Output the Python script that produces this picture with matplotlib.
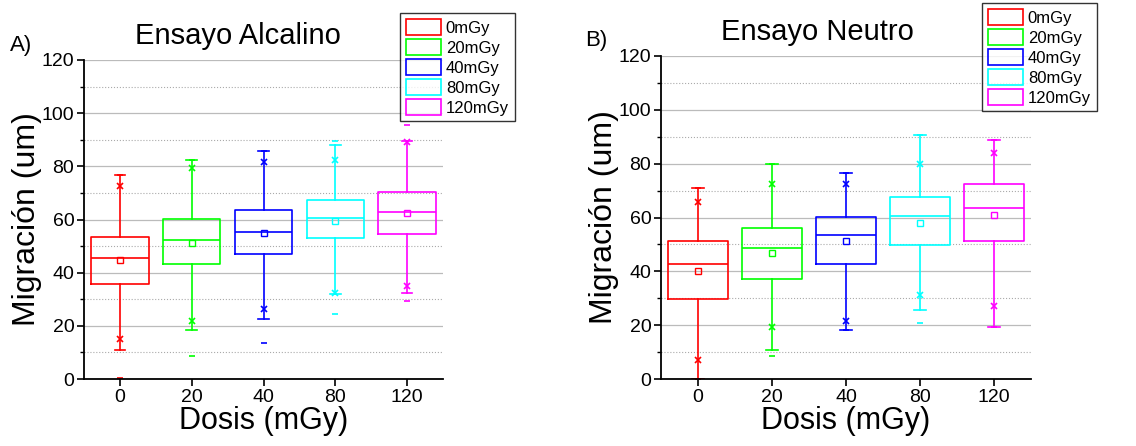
import numpy as np
import matplotlib.pyplot as plt
from matplotlib.patches import Patch
from matplotlib.ticker import MultipleLocator

plt.rcParams['font.family'] = ['Liberation Sans', 'DejaVu Sans']

doses = ['0', '20', '40', '80', '120']
legend_labels = ['0mGy', '20mGy', '40mGy', '80mGy', '120mGy']
colors = ['#FF0000', '#00FF00', '#0000FF', '#00FFFF', '#FF00FF']

# Ensayo Alcalino
a_q1 = [35.6, 43.2, 47.1, 53.0, 54.5]
a_med = [45.6, 52.2, 55.4, 60.4, 62.8]
a_q3 = [53.6, 60.2, 63.5, 67.3, 70.2]
a_mean = [44.8, 51.3, 55.1, 59.6, 62.3]
a_wlo = [11.0, 18.5, 22.6, 31.8, 32.4]
a_whi = [76.7, 82.3, 85.6, 88.1, 89.6]
a_p1 = [15.1, 21.7, 26.2, 32.5, 34.9]
a_p99 = [72.5, 79.2, 81.6, 82.3, 89.0]
a_min = [0.3, 8.7, 13.7, 24.4, 29.2]
a_max = [76.7, 82.3, 85.6, 89.7, 95.6]

# Ensayo Neutro
n_q1 = [29.8, 37.2, 42.9, 49.6, 51.2]
n_med = [42.9, 48.7, 53.6, 60.6, 63.5]
n_q3 = [51.2, 56.0, 60.1, 67.5, 72.5]
n_mean = [40.0, 46.9, 51.1, 58.0, 60.9]
n_wlo = [0.0, 10.9, 18.3, 25.7, 19.2]
n_whi = [70.9, 79.9, 76.6, 90.6, 88.8]
n_p1 = [6.9, 19.2, 21.7, 31.1, 27.0]
n_p99 = [65.6, 72.5, 72.5, 79.9, 84.0]
n_min = [0.0, 8.4, 18.3, 20.9, 19.2]
n_max = [70.9, 79.9, 76.6, 90.6, 88.8]


def draw_panel(ax, q1, med, q3, mean, wlo, whi, p1, p99, mn, mx):
    pos = np.arange(1, len(doses) + 1)
    for i, c in enumerate(colors):
        st = [dict(q1=q1[i], med=med[i], q3=q3[i], mean=mean[i],
                   whislo=wlo[i], whishi=whi[i], fliers=[])]
        ax.bxp(st, positions=[pos[i]], widths=0.8, showmeans=True,
               meanline=False, capwidths=0.15,
               boxprops=dict(color=c, lw=1.2),
               medianprops=dict(color=c, lw=1.2),
               whiskerprops=dict(color=c, lw=1.2),
               capprops=dict(color=c, lw=1.2),
               meanprops=dict(marker='s', markersize=4, markerfacecolor='none',
                              markeredgecolor=c, markeredgewidth=1))
        ax.plot([pos[i], pos[i]], [p1[i], p99[i]], ls='none', marker='x',
                ms=4, mew=1.2, color=c)
        ax.plot([pos[i], pos[i]], [mn[i], mx[i]], ls='none', marker='_',
                ms=5, mew=1.2, color=c)
    ax.set_xlim(0.5, 5.5)
    ax.set_ylim(0, 120)
    ax.set_xticks(pos)
    ax.set_xticklabels(doses)
    ax.yaxis.set_major_locator(MultipleLocator(20))
    ax.yaxis.set_minor_locator(MultipleLocator(10))
    ax.grid(axis='y', which='major', color='#BBBBBB', lw=0.9, ls='-')
    ax.grid(axis='y', which='minor', color='#AAAAAA', lw=0.8, ls=':')
    ax.set_axisbelow(True)
    for s in ['top', 'right']:
        ax.spines[s].set_visible(False)
    for s in ['left', 'bottom']:
        ax.spines[s].set_linewidth(1.3)
    ax.tick_params(which='major', direction='out', length=5, width=1.2,
                   labelsize=14, pad=2)
    ax.tick_params(which='minor', direction='out', length=3, width=1.0)
    ax.set_xlabel('Dosis (mGy)', fontsize=22, labelpad=0)
    ax.set_ylabel('Migración (um)', fontsize=23, labelpad=0)


fig = plt.figure(figsize=(11.36, 4.46), dpi=100)
ax1 = fig.add_axes([84 / 1136, 67 / 446, 359 / 1136, 319 / 446])
ax2 = fig.add_axes([661 / 1136, 67 / 446, 370 / 1136, 323 / 446])

draw_panel(ax1, a_q1, a_med, a_q3, a_mean, a_wlo, a_whi, a_p1, a_p99, a_min, a_max)
draw_panel(ax2, n_q1, n_med, n_q3, n_mean, n_wlo, n_whi, n_p1, n_p99, n_min, n_max)

fig.text(238 / 1136, 1 - 44 / 446, 'Ensayo Alcalino', fontsize=21, ha='center', va='baseline')
fig.text(817 / 1136, 1 - 40 / 446, 'Ensayo Neutro', fontsize=21, ha='center', va='baseline')
fig.text(10 / 1136, 1 - 51 / 446, 'A)', fontsize=16, ha='left', va='baseline')
fig.text(585 / 1136, 1 - 46 / 446, 'B)', fontsize=16, ha='left', va='baseline')

handles = [Patch(facecolor='none', edgecolor=c, lw=1.2) for c in colors]
for xa, ya in [(400, 13), (982, 3)]:
    leg = fig.legend(handles, legend_labels, loc='upper left',
                     bbox_to_anchor=(xa / 1136, 1 - ya / 446),
                     bbox_transform=fig.transFigure, borderaxespad=0,
                     fontsize=12, frameon=True, fancybox=False,
                     handlelength=2.1, handleheight=1.1, handletextpad=0.3,
                     labelspacing=0.2, borderpad=0.35)
    leg.get_frame().set_edgecolor('black')
    leg.get_frame().set_linewidth(1.0)

fig.savefig('out.png', dpi=100)
